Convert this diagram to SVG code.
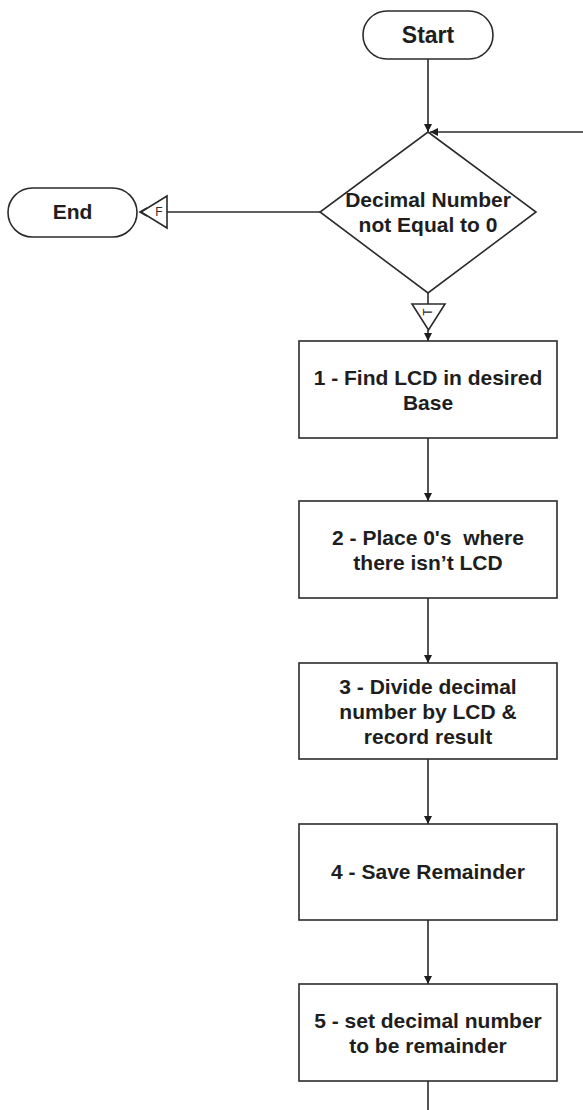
<svg xmlns="http://www.w3.org/2000/svg" width="583" height="1110" viewBox="0 0 583 1110">
<style>
.shape{fill:#ffffff;stroke:#2b2b2b;stroke-width:1.6}
.line{fill:none;stroke:#2b2b2b;stroke-width:1.6}
.t{font-family:"Liberation Sans",Arial,sans-serif;font-weight:bold;font-size:21px;fill:#1e1e1e;text-anchor:middle}
.s{font-family:"Liberation Sans",Arial,sans-serif;font-size:12px;fill:#2b2b2b;text-anchor:middle}
</style>
<defs>
<marker id="arr" viewBox="0 0 10 10" refX="10" refY="5" markerWidth="8" markerHeight="9" markerUnits="userSpaceOnUse" orient="auto">
<path d="M0,0 L10,5 L0,10 z" fill="#1e1e1e"/>
</marker>
</defs>
<rect width="583" height="1110" fill="#ffffff"/>
<g id="connectors">
<line class="line" x1="428" y1="59" x2="428" y2="132" marker-end="url(#arr)"/>
<line class="line" x1="583" y1="132" x2="430" y2="132" marker-end="url(#arr)"/>
<line class="line" x1="320" y1="212" x2="167" y2="212"/>
<polygon class="shape" points="167,196 167,228 141,212"/>
<polyline class="line" points="147,208 140,212 147,216"/>
<text class="s" x="159" y="216">F</text>
<line class="line" x1="428" y1="293" x2="428" y2="304"/>
<polygon class="shape" points="412,304 445,304 428.5,330"/>
<text class="s" transform="translate(428,312) rotate(-90)" x="0" y="4">T</text>
<line class="line" x1="428" y1="330" x2="428" y2="341" marker-end="url(#arr)"/>
<line class="line" x1="428" y1="438" x2="428" y2="501" marker-end="url(#arr)"/>
<line class="line" x1="428" y1="598" x2="428" y2="663" marker-end="url(#arr)"/>
<line class="line" x1="428" y1="759" x2="428" y2="824" marker-end="url(#arr)"/>
<line class="line" x1="428" y1="920" x2="428" y2="984" marker-end="url(#arr)"/>
<line class="line" x1="428" y1="1081" x2="428" y2="1110"/>
</g>
<g id="start">
<rect class="shape" x="363" y="11" width="130" height="48" rx="24"/>
<text class="t" x="428" y="43" style="font-size:23px">Start</text>
</g>
<g id="decision">
<polygon class="shape" points="428,132 536,212 428,293 320,212"/>
<text class="t" x="428" y="207">Decimal Number</text>
<text class="t" x="428" y="232">not Equal to 0</text>
</g>
<g id="end">
<rect class="shape" x="8" y="188" width="129" height="49" rx="24.5"/>
<text class="t" x="72.5" y="219">End</text>
</g>
<g id="step1">
<rect class="shape" x="299" y="341" width="258" height="97"/>
<text class="t" x="428" y="384.5">1 - Find LCD in desired</text>
<text class="t" x="428" y="409.5">Base</text>
</g>
<g id="step2">
<rect class="shape" x="299" y="501" width="258" height="97"/>
<text class="t" x="428" y="544.5" xml:space="preserve">2 - Place 0's  where</text>
<text class="t" x="428" y="569.5">there isn’t LCD</text>
</g>
<g id="step3">
<rect class="shape" x="299" y="663" width="258" height="96"/>
<text class="t" x="428" y="693.5">3 - Divide decimal</text>
<text class="t" x="428" y="718.5">number by LCD &amp;</text>
<text class="t" x="428" y="743.5">record result</text>
</g>
<g id="step4">
<rect class="shape" x="299" y="824" width="258" height="96"/>
<text class="t" x="428" y="879">4 - Save Remainder</text>
</g>
<g id="step5">
<rect class="shape" x="299" y="984" width="258" height="97"/>
<text class="t" x="428" y="1027.5">5 - set decimal number</text>
<text class="t" x="428" y="1052.5">to be remainder</text>
</g>
</svg>
